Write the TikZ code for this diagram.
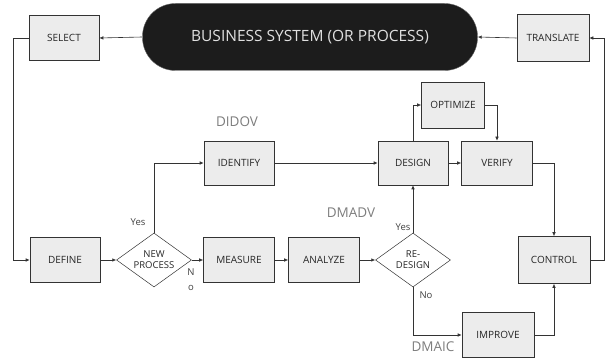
\documentclass[tikz,border=0pt]{standalone}
\usepackage{fontspec}
\setmainfont{Open Sans}
\usetikzlibrary{arrows.meta}
\usetikzlibrary{shapes.geometric}
\tikzset{>={Latex[length=4pt,width=3.5pt]}}
\definecolor{pillgrey}{RGB}{28,28,28}
\definecolor{boxfill}{RGB}{236,236,236}
\definecolor{tagcolor}{RGB}{125,125,125}
\tikzstyle{stagebox}=[draw=black!80,fill=boxfill,line width=0.6pt,minimum width=70pt,minimum height=45pt,inner sep=1pt,text=black!85,font=\fontsize{10}{12}\selectfont]
\tikzstyle{pill}=[draw=black!60,fill=pillgrey,rounded corners=33pt,minimum width=335pt,minimum height=67pt,text=white!88!black,font=\fontsize{15.5}{18}\selectfont]
\tikzstyle{choice}=[diamond,draw=black!80,fill=white,line width=0.5pt,minimum width=75pt,minimum height=54pt,inner sep=-3pt,align=center,text=black!85,font=\fontsize{9.5}{11}\selectfont]
\tikzstyle{flowline}=[draw=black!80,line width=0.6pt,->]
\tikzstyle{tag}=[text=tagcolor,font=\fontsize{13.5}{14}\selectfont]
\tikzstyle{answer}=[text=black!75,inner sep=0pt,font=\fontsize{9.5}{15}\selectfont]

\begin{document}
\begin{tikzpicture}[x=1pt,y=-1pt]
    \useasboundingbox (0,0) rectangle (608,363);

    % top row
    \node[stagebox] (select) at (64,38) {SELECT};
    \node[pill] (business) at (310,37) {BUSINESS SYSTEM (OR PROCESS)};
    \node[stagebox,minimum width=72,minimum height=47] (translate) at (553,38) {TRANSLATE};

    % design branch
    \node[stagebox,minimum width=63,minimum height=46] (optimize) at (453,105) {OPTIMIZE};
    \node[stagebox,minimum height=44] (identify) at (239,163) {IDENTIFY};
    \node[stagebox,minimum height=44] (design) at (413,163) {DESIGN};
    \node[stagebox,minimum width=71,minimum height=44] (verify) at (497,163) {VERIFY};

    % main row
    \node[stagebox] (define) at (65,260) {DEFINE};
    \node[choice] (newproc) at (154,260) {NEW\\PROCESS};
    \node[stagebox,minimum width=71] (measure) at (239,260) {MEASURE};
    \node[stagebox,minimum width=71] (analyze) at (324,260) {ANALYZE};
    \node[choice] (redesign) at (413,260) {RE-\\DESIGN};
    \node[stagebox,minimum width=72,minimum height=47] (control) at (554,260) {CONTROL};
    \node[stagebox,minimum width=72] (improve) at (498,335) {IMPROVE};

    % outer loop
    \coordinate (leftrail) at (13,0);
    \coordinate (rightrail) at (604,0);
    \draw[flowline] (translate.west) -- (business.east);
    \draw[flowline] (business.west) -- (select.east);
    \draw[flowline] (select.west) -- (select.west -| leftrail) |- (define.west);
    \draw[flowline] (control.east) -- (control.east -| rightrail) |- (translate.east);

    % inner flow
    \draw[flowline] (define) -- (newproc);
    \draw[flowline] (newproc) -- (measure);
    \draw[flowline] (newproc.north) |- (identify);
    \draw[flowline] (identify) -- (design);
    \draw[flowline] (measure) -- (analyze);
    \draw[flowline] (analyze) -- (redesign);
    \draw[flowline] (redesign) -- (design);
    \draw[flowline] (redesign.south) |- (improve);
    \draw[flowline] (improve) -| (control);
    \draw[flowline] (design) -- (verify);
    \draw[flowline] (verify) -| (control);
    \draw[flowline] (design) |- (optimize);
    \draw[flowline] (optimize) -| (verify);

    \node[answer] (yesnew) at (138,222) {Yes};
    \node[answer,align=center] (nonew) at (191,280) {N\\o};
    \node[answer] (yesre) at (403,227) {Yes};
    \node[answer] (nore) at (426,295) {No};
    \node[tag] (didov) at (237,122) {DIDOV};
    \node[tag] (dmadv) at (351,213) {DMADV};
    \node[tag] (dmaic) at (433,347) {DMAIC};
\end{tikzpicture}
\end{document}
